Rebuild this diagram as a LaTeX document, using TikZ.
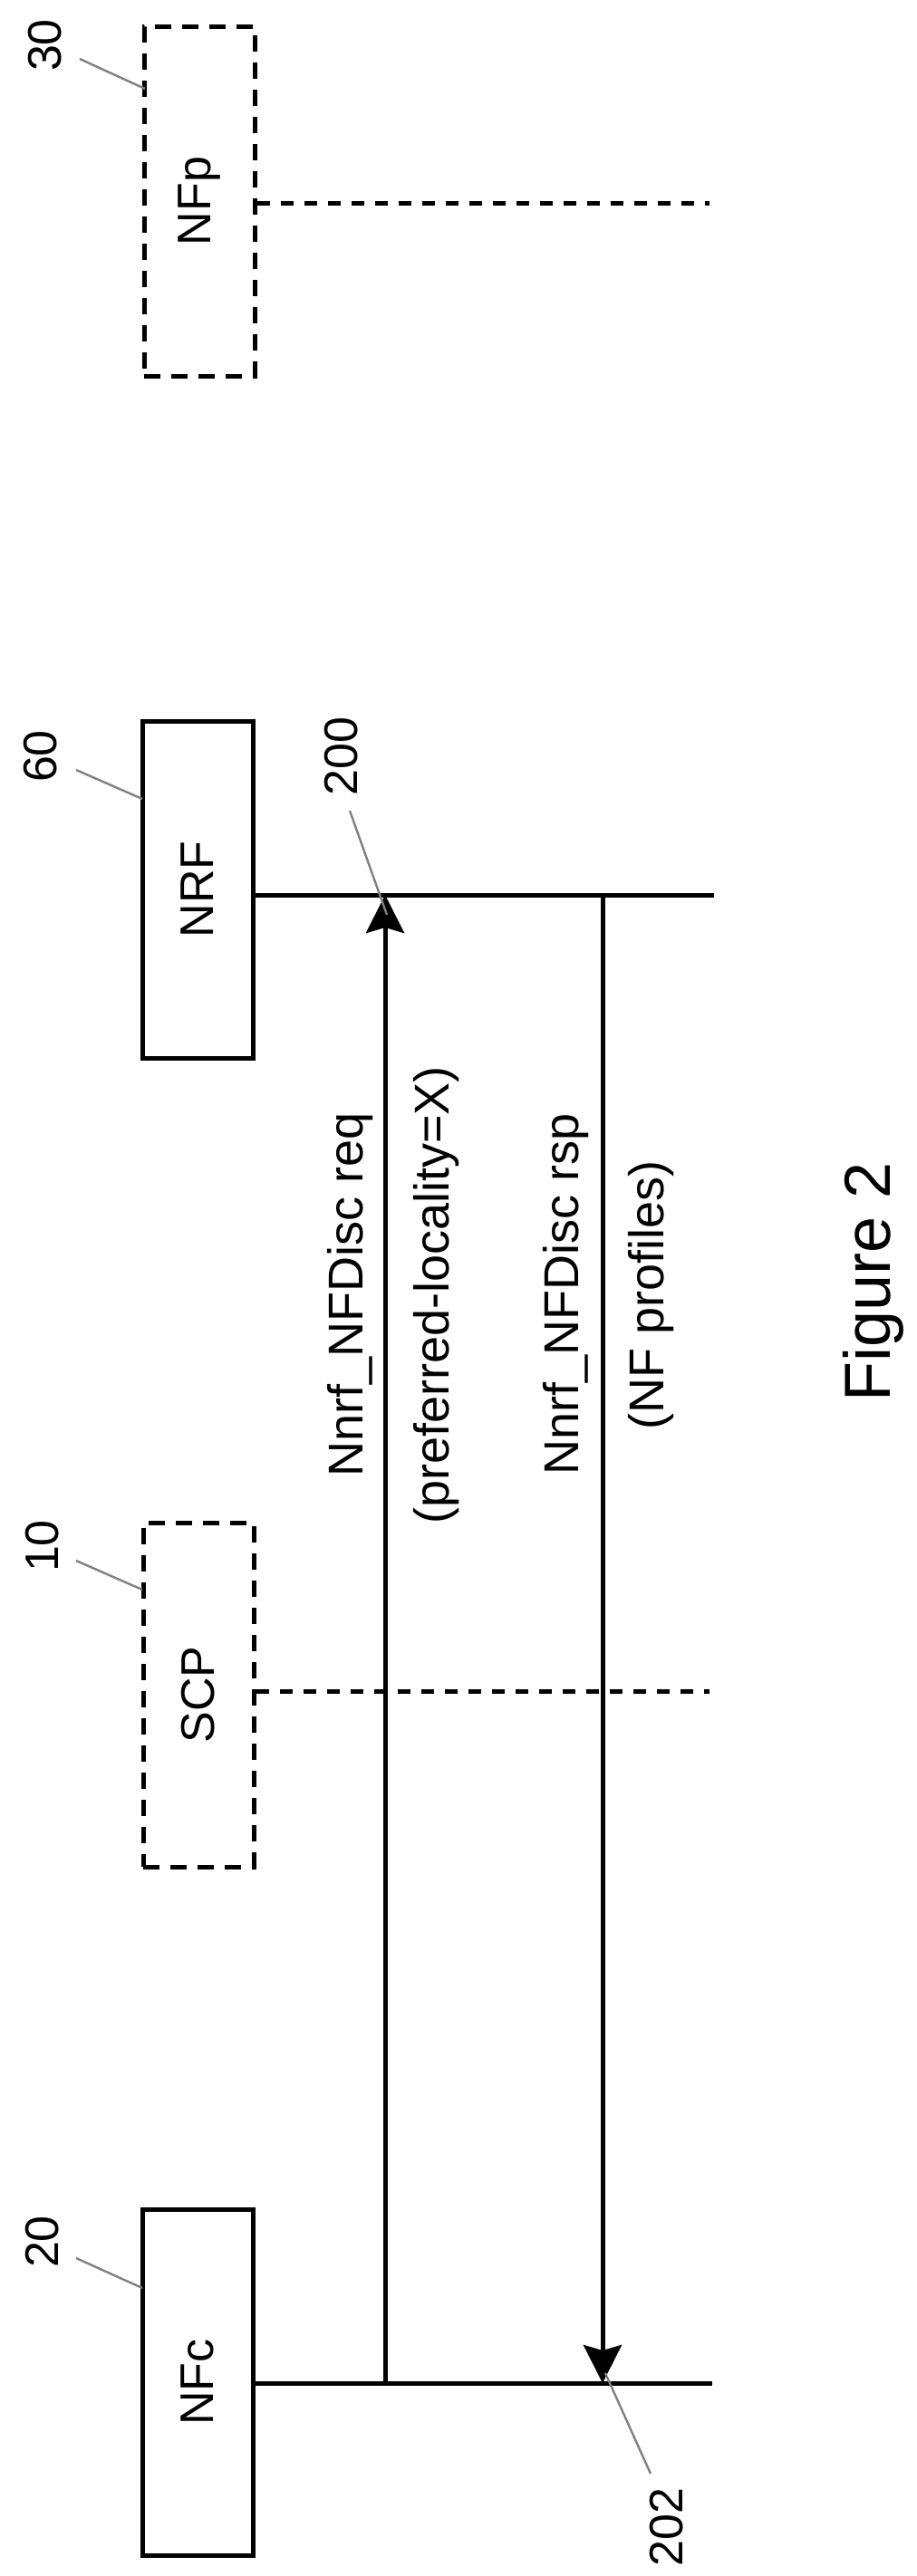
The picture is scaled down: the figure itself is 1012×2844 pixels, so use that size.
\documentclass[tikz,border=0pt]{standalone}
\usepackage{fontspec}
\setmainfont{Liberation Sans}
\usetikzlibrary{arrows.meta}
\begin{document}
\begin{tikzpicture}[x=0.5pt,y=-0.5pt,
  ent/.style={draw,line width=2.5pt,minimum width=61pt,inner sep=0pt},
  dent/.style={ent,dash pattern=on 9pt off 6pt},
  life/.style={line width=2.5pt},
  dlife/.style={line width=2.5pt,dash pattern=on 7pt off 6pt},
  msg/.style={line width=2.5pt,-{Stealth[length=21pt,width=21pt,inset=3pt]}},
  lead/.style={draw=gray,line width=1.2pt},
  big/.style={font=\fontsize{26}{30}\selectfont,rotate=90,inner sep=0pt},
  lab/.style={font=\fontsize{27}{32}\selectfont,rotate=90,inner sep=0pt}]
\useasboundingbox (0,0) rectangle (1012,2844);
% boxes
\node[dent,minimum height=193pt] (nfp) at (220,222) {};
\node[ent,minimum height=186pt] (nrf) at (218,982) {};
\node[dent,minimum height=190pt] (scp) at (219,1871) {};
\node[ent,minimum height=191pt] (nfc) at (218,2630) {};
\node[big] (tnfp) at (220,222) {NFp};
\node[big] (tnrf) at (218,982) {NRF};
\node[big] (tscp) at (219,1871) {SCP};
\node[big] (tnfc) at (218,2630) {NFc};
% lifelines
\coordinate (pA) at (nfp.east |- 0,224);
\coordinate (pB) at (783,224);
\coordinate (rA) at (nrf.east |- 0,988);
\coordinate (rB) at (788,988);
\coordinate (sA) at (scp.east |- 0,1867);
\coordinate (sB) at (783,1867);
\coordinate (cA) at (nfc.east |- 0,2631);
\coordinate (cB) at (786,2631);
\draw[dlife] (pA) -- (pB);
\draw[life] (rA) -- (rB);
\draw[dlife] (sA) -- (sB);
\draw[life] (cA) -- (cB);
% messages
\coordinate (m1s) at (425,2631);
\coordinate (m1e) at (425,988);
\coordinate (m2s) at (665,988);
\coordinate (m2e) at (665,2631);
\draw[msg] (m1s) -- (m1e);
\draw[msg] (m2s) -- (m2e);
\node[lab] (l1) at (387,1429) {Nnrf\_NFDisc req};
\node[lab] (l2) at (482,1430) {(preferred-locality=X)};
\node[lab] (l3) at (625,1429) {Nnrf\_NFDisc rsp};
\node[lab] (l4) at (719,1430) {(NF profiles)};
\node[font=\fontsize{36}{40}\selectfont,rotate=90,inner sep=0pt] (fig) at (964,1415) {Figure 2};
% reference numerals
\node[big] (n30) at (50,50) {30};
\node[big] (n60) at (45,835) {60};
\node[big] (n200) at (377,835) {200};
\node[big] (n10) at (47,1707) {10};
\node[big] (n20) at (47,2475) {20};
\node[big] (n202) at (736,2790) {202};
\coordinate (a30) at (88,65); \coordinate (b30) at (160,98);
\coordinate (a60) at (84,850); \coordinate (b60) at (157,882);
\coordinate (a200) at (386,895); \coordinate (b200) at (427,1010);
\coordinate (a10) at (84,1723); \coordinate (b10) at (157,1755);
\coordinate (a20) at (84,2493); \coordinate (b20) at (157,2526);
\coordinate (a202) at (668,2620); \coordinate (b202) at (718,2731);
\draw[lead] (a30) -- (b30);
\draw[lead] (a60) -- (b60);
\draw[lead] (a200) -- (b200);
\draw[lead] (a10) -- (b10);
\draw[lead] (a20) -- (b20);
\draw[lead] (a202) -- (b202);
\end{tikzpicture}
\end{document}
